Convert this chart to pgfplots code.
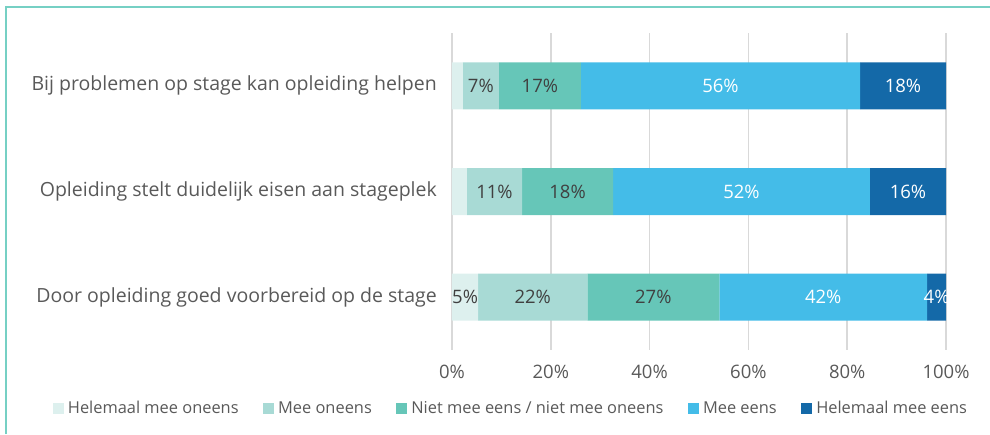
\documentclass[border=0pt]{standalone}
\usepackage{pgfplots}
\pgfplotsset{compat=1.18}
\usepackage{fontspec}
\setmainfont{Open Sans}

\definecolor{cA}{HTML}{DDF0EE}
\definecolor{cB}{HTML}{A8DAD5}
\definecolor{cC}{HTML}{66C6B8}
\definecolor{cD}{HTML}{44BCE8}
\definecolor{cE}{HTML}{1469A8}
\definecolor{framecol}{HTML}{76D0C4}
\definecolor{gridcol}{HTML}{D9D9D9}
\definecolor{textcol}{HTML}{595959}
\definecolor{darklab}{HTML}{404040}

\newcommand{\mainfs}{\fontsize{18.5}{22}\selectfont}
\newcommand{\catfs}{\fontsize{19.5}{23}\selectfont}
\newcommand{\legfs}{\fontsize{16.4}{20}\selectfont}

\pgfplotsset{
  legsq/.style={legend image code/.code={\fill[##1] (0pt,-5.5pt) rectangle (11pt,5.5pt);}},
  frame/.style={scale only axis, width=494pt, height=317pt,
    xmin=0, xmax=100, ymin=-0.5, ymax=2.5, y dir=reverse},
  labs/.style={only marks, mark=*, mark size=0pt, mark options={draw=none, fill=none},
    nodes near coords, point meta=explicit symbolic, nodes near coords align=center,
    every node near coord/.append style={font=\mainfs, inner sep=0pt, text=#1}},
}

\begin{document}
\begin{tikzpicture}
\useasboundingbox (-452pt,-84pt) rectangle (538pt,350pt);
\draw[framecol, line width=2pt] (-446pt,-84pt) -- (-446pt,343pt) -- (538pt,343pt);

\begin{axis}[frame,
  at={(0pt,0pt)}, anchor=south west,
  xbar stacked, bar width=47pt,
  axis line style={draw=none}, tick style={draw=none},
  xmajorgrids, major grid style={draw=gridcol, line width=1.5pt},
  xtick={0,20,40,60,80,100},
  xticklabels={0\%,20\%,40\%,60\%,80\%,100\%},
  ytick={0,1,2},
  yticklabels={Bij problemen op stage kan opleiding helpen,
    Opleiding stelt duidelijk eisen aan stageplek,
    Door opleiding goed voorbereid op de stage},
  tick label style={text=textcol},
  xticklabel style={font=\mainfs, inner sep=0pt, anchor=north, yshift=-15pt},
  yticklabel style={font=\catfs, inner sep=0pt, anchor=east, xshift=-15pt},
  legend style={draw=none, fill=none, font=\legfs, text=textcol,
    legend columns=5, inner sep=0pt,
    at={(axis description cs:0.1194,-0.183)}, anchor=center,
    /tikz/every even column/.append style={column sep=22.5pt},
    /tikz/every odd column/.append style={column sep=2pt}},
  legend cell align=left,
]
\addplot[fill=cA, draw=none, legsq] coordinates {(2.2,0) (3.0,1) (5.3,2)};
\addlegendentry{Helemaal mee oneens}
\addplot[fill=cB, draw=none, legsq] coordinates {(7.3,0) (11.2,1) (22.1,2)};
\addlegendentry{Mee oneens}
\addplot[fill=cC, draw=none, legsq] coordinates {(16.6,0) (18.4,1) (26.7,2)};
\addlegendentry{Niet mee eens / niet mee oneens}
\addplot[fill=cD, draw=none, legsq] coordinates {(56.5,0) (52.0,1) (42.1,2)};
\addlegendentry{Mee eens}
\addplot[fill=cE, draw=none, legsq] coordinates {(17.4,0) (15.4,1) (3.8,2)};
\addlegendentry{Helemaal mee eens}
\end{axis}

\begin{axis}[frame, at={(0pt,0pt)}, anchor=south west, hide axis]
\addplot[labs=darklab]
  coordinates {(5.85,0) [7\%] (17.8,0) [17\%]
               (8.6,1) [11\%] (23.4,1) [18\%]
               (2.65,2) [5\%] (16.35,2) [22\%] (40.75,2) [27\%]};
\addplot[labs=white]
  coordinates {(54.35,0) [56\%] (91.3,0) [18\%]
               (58.6,1) [52\%] (92.3,1) [16\%]
               (75.15,2) [42\%] (98.1,2) [4\%]};
\end{axis}
\end{tikzpicture}
\end{document}
